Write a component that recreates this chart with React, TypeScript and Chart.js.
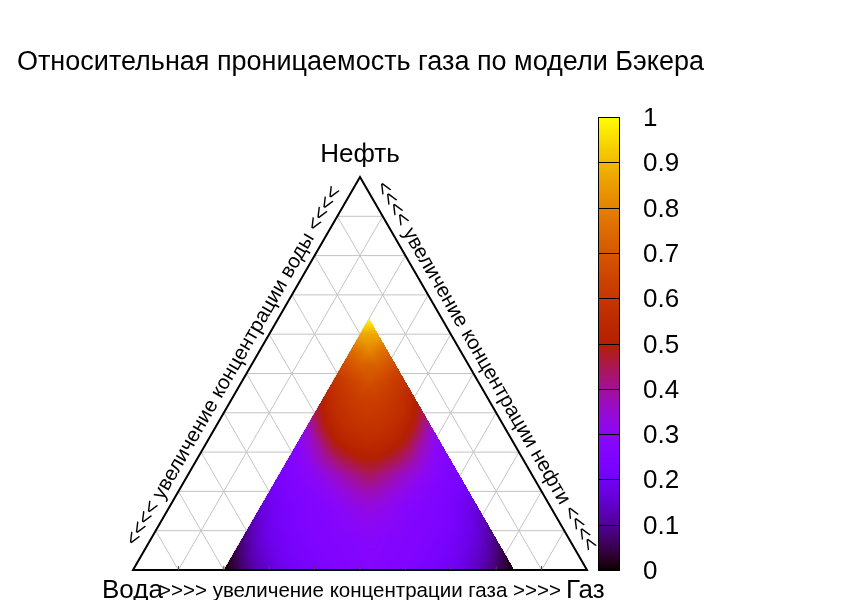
import React, { useEffect, useRef } from "react";
import { Chart, registerables } from "chart.js";
Chart.register(...registerables);

const TITLE = "Относительная проницаемость газа по модели Бэкера";
const VERTEX_LABELS = ["Вода", "Газ", "Нефть"];
const EDGE_LABELS = [
  ">>>> увеличение концентрации газа >>>>",
  "<<<< увеличение концентрации воды <<<<",
  "<<<< увеличение концентрации нефти <<<<",
];
const CB_TICKS = [0, 0.1, 0.2, 0.3, 0.4, 0.5, 0.6, 0.7, 0.8, 0.9, 1];
const CB_TICK_LABELS = ["0", "0.1", "0.2", "0.3", "0.4", "0.5", "0.6", "0.7", "0.8", "0.9", "1"];
const GRID_FRACTIONS = [0.1, 0.2, 0.3, 0.4, 0.5, 0.6, 0.7, 0.8, 0.9];

// sampled region: gas >= SGC, water >= SWC; oil = STEP*k, gas = SGC + STEP*i
const SGC = 0.2;
const SWC = 0.16;
const STEP = 0.04;

// values read row by row (k = oil level index), from water side (left) to gas side (right)
const row0 = [0.0, 0.07, 0.13, 0.18, 0.21, 0.23, 0.25, 0.26, 0.27, 0.26, 0.25, 0.23, 0.21, 0.18, 0.13, 0.07, 0.0];
const row1 = [0.04, 0.12, 0.17, 0.21, 0.23, 0.25, 0.26, 0.27, 0.27, 0.26, 0.25, 0.23, 0.21, 0.17, 0.12, 0.04];
const row2 = [0.08, 0.16, 0.2, 0.23, 0.25, 0.26, 0.27, 0.28, 0.27, 0.26, 0.25, 0.23, 0.2, 0.16, 0.08];
const row3 = [0.12, 0.19, 0.23, 0.25, 0.26, 0.28, 0.3, 0.3, 0.28, 0.26, 0.25, 0.23, 0.19, 0.12];
const row4 = [0.16, 0.21, 0.24, 0.26, 0.28, 0.31, 0.33, 0.31, 0.28, 0.26, 0.24, 0.21, 0.16];
const row5 = [0.2, 0.24, 0.26, 0.29, 0.33, 0.37, 0.37, 0.33, 0.29, 0.26, 0.24, 0.2];
const row6 = [0.23, 0.26, 0.3, 0.35, 0.4, 0.44, 0.4, 0.35, 0.3, 0.26, 0.23];
const row7 = [0.25, 0.3, 0.38, 0.45, 0.49, 0.49, 0.45, 0.38, 0.3, 0.25];
const row8 = [0.27, 0.37, 0.48, 0.53, 0.55, 0.53, 0.48, 0.37, 0.27];
const row9 = [0.34, 0.48, 0.55, 0.58, 0.58, 0.55, 0.48, 0.34];
const row10 = [0.45, 0.55, 0.59, 0.61, 0.59, 0.55, 0.45];
const row11 = [0.52, 0.59, 0.63, 0.63, 0.59, 0.52];
const row12 = [0.58, 0.64, 0.68, 0.64, 0.58];
const row13 = [0.66, 0.72, 0.72, 0.66];
const row14 = [0.75, 0.81, 0.75];
const row15 = [0.87, 0.87];
const row16 = [1.0];
const ROWS = [row0, row1, row2, row3, row4, row5, row6, row7, row8, row9, row10, row11, row12, row13, row14, row15, row16];

const SQ = Math.sqrt(3) / 2;
const FONT = "'Liberation Sans', Arial, sans-serif";

function toXY(gas: number, oil: number) {
  return { x: gas + oil / 2, y: oil * SQ };
}

function palette(v: number): [number, number, number] {
  const t = Math.min(1, Math.max(0, v));
  const r = Math.sqrt(t);
  const g = t * t * t;
  const b = Math.max(0, Math.sin(2 * Math.PI * t));
  return [Math.round(r * 255), Math.round(g * 255), Math.round(b * 255)];
}

type V3 = [number, number, number];

function fillTri(img: ImageData, W: number, H: number, a: V3, b: V3, c: V3) {
  const minX = Math.max(0, Math.floor(Math.min(a[0], b[0], c[0])));
  const maxX = Math.min(W - 1, Math.ceil(Math.max(a[0], b[0], c[0])));
  const minY = Math.max(0, Math.floor(Math.min(a[1], b[1], c[1])));
  const maxY = Math.min(H - 1, Math.ceil(Math.max(a[1], b[1], c[1])));
  const det = (b[1] - c[1]) * (a[0] - c[0]) + (c[0] - b[0]) * (a[1] - c[1]);
  if (Math.abs(det) < 1e-9) return;
  const d = img.data;
  for (let y = minY; y <= maxY; y++) {
    for (let x = minX; x <= maxX; x++) {
      const px = x + 0.5, py = y + 0.5;
      const l1 = ((b[1] - c[1]) * (px - c[0]) + (c[0] - b[0]) * (py - c[1])) / det;
      const l2 = ((c[1] - a[1]) * (px - c[0]) + (a[0] - c[0]) * (py - c[1])) / det;
      const l3 = 1 - l1 - l2;
      if (l1 < -1e-4 || l2 < -1e-4 || l3 < -1e-4) continue;
      const v = l1 * a[2] + l2 * b[2] + l3 * c[2];
      const [r, g, bb] = palette(v);
      const idx = (y * W + x) * 4;
      d[idx] = r; d[idx + 1] = g; d[idx + 2] = bb; d[idx + 3] = 255;
    }
  }
}

const meshPoints: { x: number; y: number; v: number }[] = [];
ROWS.forEach((row, k) => {
  row.forEach((v, i) => {
    const c = toXY(SGC + STEP * i, STEP * k);
    meshPoints.push({ x: c.x, y: c.y, v });
  });
});

const ternaryPlugin = {
  id: "ternary",
  beforeDatasetsDraw(chart: any) {
    const ctx: CanvasRenderingContext2D = chart.ctx;
    const xs = chart.scales.x;
    const ys = chart.scales.y;
    const P = (gas: number, oil: number): [number, number] => {
      const c = toXY(gas, oil);
      return [xs.getPixelForValue(c.x), ys.getPixelForValue(c.y)];
    };
    ctx.save();
    // grid
    ctx.strokeStyle = "#c4c4c4";
    ctx.lineWidth = 1;
    const line = (p: [number, number], q: [number, number]) => {
      ctx.beginPath();
      ctx.moveTo(p[0], p[1]);
      ctx.lineTo(q[0], q[1]);
      ctx.stroke();
    };
    GRID_FRACTIONS.forEach((f) => {
      line(P(0, f), P(1 - f, f)); // constant oil
      line(P(f, 0), P(f, 1 - f)); // constant gas
      line(P(1 - f, 0), P(0, 1 - f)); // constant water
    });

    // heat surface
    const W = chart.width, H = chart.height;
    const off = document.createElement("canvas");
    off.width = W; off.height = H;
    const octx = off.getContext("2d")!;
    const img = octx.createImageData(W, H);
    const V = (k: number, i: number): V3 => {
      const p = P(SGC + STEP * i, STEP * k);
      return [p[0], p[1], ROWS[k][i]];
    };
    for (let k = 0; k < ROWS.length - 1; k++) {
      const n = ROWS[k].length - 1;
      for (let i = 0; i < n; i++) {
        fillTri(img, W, H, V(k, i), V(k, i + 1), V(k + 1, i));
        if (i <= n - 2) fillTri(img, W, H, V(k, i + 1), V(k + 1, i), V(k + 1, i + 1));
      }
    }
    octx.putImageData(img, 0, 0);
    ctx.drawImage(off, 0, 0);

    // frame
    const A = P(0, 0), B = P(1, 0), C = P(0, 1);
    ctx.strokeStyle = "#000";
    ctx.lineWidth = 2;
    ctx.lineJoin = "miter";
    ctx.beginPath();
    ctx.moveTo(A[0], A[1]); ctx.lineTo(B[0], B[1]); ctx.lineTo(C[0], C[1]); ctx.closePath();
    ctx.stroke();
    // bottom ticks
    ctx.lineWidth = 1;
    ctx.strokeStyle = "#444";
    GRID_FRACTIONS.forEach((f) => {
      const p = P(f, 0);
      line([p[0], p[1]], [p[0], p[1] - 4]);
    });

    // labels
    ctx.fillStyle = "#000";
    ctx.font = `27px ${FONT}`;
    ctx.textBaseline = "alphabetic";
    ctx.textAlign = "left";
    ctx.fillText(TITLE, 17, 70);
    ctx.font = `26px ${FONT}`;
    ctx.textAlign = "center";
    ctx.fillText(VERTEX_LABELS[2], C[0], C[1] - 15);
    ctx.textAlign = "left";
    ctx.fillText(VERTEX_LABELS[0], A[0] - 31, A[1] + 28);
    ctx.fillText(VERTEX_LABELS[1], B[0] - 21, B[1] + 28);

    ctx.font = `20.5px ${FONT}`;
    ctx.textAlign = "center";
    ctx.fillText(EDGE_LABELS[0], (A[0] + B[0]) / 2, A[1] + 27);
    // left edge
    const off1 = 9;
    ctx.save();
    const mL = [(A[0] + C[0]) / 2 - 0.866 * off1, (A[1] + C[1]) / 2 - 0.5 * off1];
    ctx.translate(mL[0], mL[1]);
    ctx.rotate(-Math.PI / 3);
    ctx.fillText(EDGE_LABELS[1], 0, 0);
    ctx.restore();
    // right edge
    ctx.save();
    const mR = [(B[0] + C[0]) / 2 + 0.866 * off1, (B[1] + C[1]) / 2 - 0.5 * off1];
    ctx.translate(mR[0], mR[1]);
    ctx.rotate(Math.PI / 3);
    ctx.fillText(EDGE_LABELS[2], 0, 0);
    ctx.restore();

    // colour box
    const cbL = 598, cbR = 620, cbT = 117, cbB = 570;
    for (let y = cbT; y < cbB; y++) {
      const v = (cbB - (y + 0.5)) / (cbB - cbT);
      const [r, g, b] = palette(v);
      ctx.fillStyle = `rgb(${r},${g},${b})`;
      ctx.fillRect(cbL, y, cbR - cbL, 1);
    }
    ctx.strokeStyle = "#000";
    ctx.lineWidth = 1;
    ctx.strokeRect(cbL + 0.5, cbT + 0.5, cbR - cbL - 1, cbB - cbT - 1);
    ctx.fillStyle = "#000";
    ctx.font = `26px ${FONT}`;
    ctx.textAlign = "left";
    ctx.textBaseline = "middle";
    CB_TICKS.forEach((t, j) => {
      const y = Math.round(cbB - t * (cbB - cbT)) + 0.5;
      line([cbL, y], [cbR, y]);
      ctx.fillText(CB_TICK_LABELS[j], 643, y + 1);
    });
    ctx.restore();
  },
};

export default function App() {
  const ref = useRef<HTMLCanvasElement>(null);
  useEffect(() => {
    if (!ref.current) return;
    const chart = new Chart(ref.current, {
      type: "scatter",
      data: {
        datasets: [
          {
            label: "kg",
            data: meshPoints,
            pointRadius: 0,
            pointHoverRadius: 0,
            showLine: false,
          },
        ],
      },
      options: {
        animation: false,
        responsive: false,
        events: [],
        layout: { padding: { left: 133, right: 263, top: 177, bottom: 30 } },
        plugins: { legend: { display: false }, tooltip: { enabled: false }, title: { display: false } },
        scales: {
          x: { type: "linear", min: 0, max: 1, display: false },
          y: { type: "linear", min: 0, max: SQ, display: false },
        },
      },
      plugins: [ternaryPlugin],
    });
    return () => chart.destroy();
  }, []);
  return (
    <div style={{ position: "fixed", left: 0, top: 0, width: 850, height: 600, background: "#fff" }}>
      <canvas ref={ref} width={850} height={600} style={{ display: "block" }} />
    </div>
  );
}
